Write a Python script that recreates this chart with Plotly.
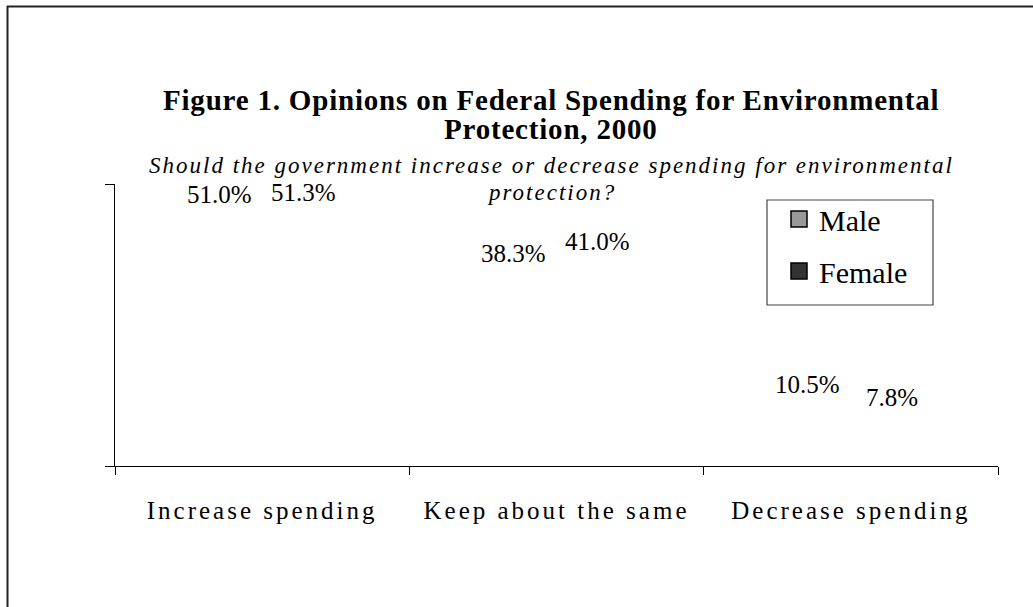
import plotly.graph_objects as go

categories = ["Increase spending", "Keep about the same", "Decrease spending"]
male = [51.0, 38.3, 10.5]
female = [51.3, 41.0, 7.8]
series_names = ["Male", "Female"]
series_colors = ["#999999", "#333333"]
title_line1 = "Figure 1. Opinions on Federal Spending for Environmental"
title_line2 = "Protection, 2000"
subtitle_line1 = "Should the government increase or decrease spending for environmental"
subtitle_line2 = "protection?"

SERIF = "Liberation Serif"
L, R, T, B = 115, 35, 184, 141
W, H = 1033, 607
PW, PH = W - L - R, H - T - B


def px_x(p):
    return (p - L) / PW


def px_y(p):
    return (H - B - p) / PH


def spaced(s, px):
    return f'<span style="letter-spacing:{px}px">{s}</span>'


fig = go.Figure()
for name, vals in zip(series_names, [male, female]):
    fig.add_trace(go.Bar(
        x=categories, y=vals, name=name, showlegend=False,
        marker=dict(color="rgba(0,0,0,0)", line=dict(width=0)),
        hoverinfo="skip",
    ))
for name, col in zip(series_names, series_colors):
    fig.add_trace(go.Scatter(
        x=[None], y=[None], mode="markers", name=name, legendgroup=name,
        marker=dict(symbol="square", size=16, color=col, line=dict(color="black", width=1.5)),
    ))
# helper trace for the inside half of the top cross tick
fig.add_trace(go.Scatter(x=[categories[0]], y=[None], yaxis="y2", showlegend=False,
                         mode="markers", hoverinfo="skip"))

annotations = []
for vals, shift in [(male, -43), (female, 41)]:
    for c, v in zip(categories, vals):
        annotations.append(dict(
            x=c, y=v, xref="x", yref="y", text=f"{v:.1f}%", showarrow=False,
            xshift=shift, yshift=32, font=dict(family=SERIF, size=25, color="black"),
        ))

annotations += [
    dict(x=px_x(551), y=px_y(100), xref="paper", yref="paper", yanchor="middle", xanchor="center",
         text=spaced(f"<b>{title_line1}</b>", 0.8),
         showarrow=False, font=dict(family=SERIF, size=29, color="black")),
    dict(x=px_x(551), y=px_y(129), xref="paper", yref="paper", yanchor="middle", xanchor="center",
         text=spaced(f"<b>{title_line2}</b>", 0.8),
         showarrow=False, font=dict(family=SERIF, size=29, color="black")),
    dict(x=px_x(551), y=px_y(165), xref="paper", yref="paper", yanchor="middle", xanchor="center",
         text=spaced(f"<i>{subtitle_line1}</i>", 2),
         showarrow=False, font=dict(family=SERIF, size=23, color="black")),
    dict(x=px_x(551), y=px_y(192), xref="paper", yref="paper", yanchor="middle", xanchor="center",
         text=spaced(f"<i>{subtitle_line2}</i>", 2),
         showarrow=False, font=dict(family=SERIF, size=23, color="black")),
]

shapes = [
    dict(type="line", xref="paper", yref="paper", x0=px_x(7), x1=px_x(W + 5), y0=px_y(6.5), y1=px_y(6.5),
         line=dict(color="#222222", width=2)),
    dict(type="line", xref="paper", yref="paper", x0=px_x(7.5), x1=px_x(7.5), y0=px_y(6), y1=px_y(H + 5),
         line=dict(color="#222222", width=2)),
    # legend frame
    dict(type="rect", xref="paper", yref="paper", x0=px_x(767), x1=px_x(933), y0=px_y(200), y1=px_y(305),
         line=dict(color="#444444", width=1.2), fillcolor="rgba(0,0,0,0)", layer="above"),
]

fig.update_layout(
    width=W, height=H,
    margin=dict(l=L, r=R, t=T, b=B),
    paper_bgcolor="white", plot_bgcolor="white",
    barmode="group", bargap=0.42, bargroupgap=0,
    showlegend=True,
    legend=dict(
        x=px_x(779), y=px_y(193), xanchor="left", yanchor="top",
        borderwidth=0, bgcolor="rgba(0,0,0,0)",
        font=dict(family=SERIF, size=30, color="black"),
        tracegroupgap=10, traceorder="grouped",
        itemwidth=30,
    ),
    xaxis=dict(
        type="category", showline=True, linecolor="black", linewidth=1,
        ticks="outside", ticklen=8, tickcolor="black", tickson="boundaries",
        showgrid=False, zeroline=False, ticklabelstandoff=22,
        tickmode="array", tickvals=categories,
        ticktext=[spaced(c, 3) for c in categories],
        tickfont=dict(family=SERIF, size=25, color="black"),
    ),
    yaxis=dict(
        range=[0, 60], tickvals=[0, 60], showticklabels=False,
        showline=True, linecolor="black", linewidth=1,
        ticks="outside", ticklen=9, tickcolor="black",
        showgrid=False, zeroline=False,
    ),
    yaxis2=dict(
        overlaying="y", side="left", range=[0, 60], tickvals=[60], showticklabels=False,
        ticks="inside", ticklen=9, tickcolor="black", showline=False,
        showgrid=False, zeroline=False,
    ),
    annotations=annotations,
    shapes=shapes,
)

fig.write_html("out.html")
